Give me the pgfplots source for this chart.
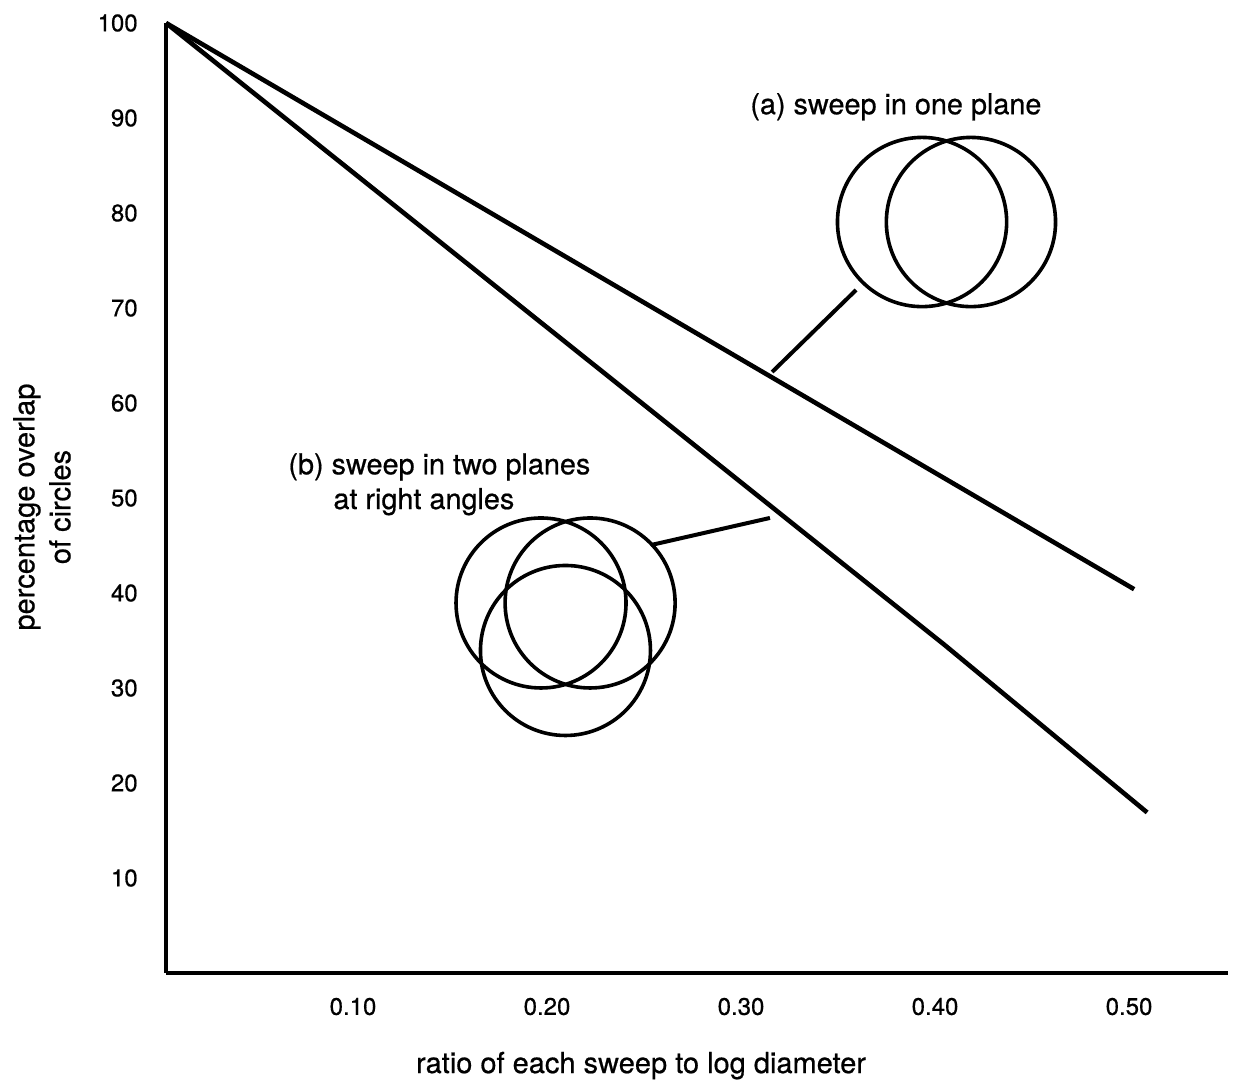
\documentclass[border=0pt]{standalone}
\usepackage{pgfplots}
\pgfplotsset{compat=1.18}
\usepackage{fontspec}
\setmainfont{TeX Gyre Heros}[FakeBold=0.6]
\begin{document}
\begin{tikzpicture}
\begin{axis}[
  at={(0,0)}, anchor=south west,
  scale only axis, width=531pt, height=475pt,
  xmin=0, xmax=0.5474, ymin=0, ymax=100,
  axis lines=left,
  axis line style={line width=2.1pt, -},
  tick style={draw=none},
  xtick={0.1,0.2,0.3,0.4,0.5},
  xticklabels={0.10,0.20,0.30,0.40,0.50},
  ytick={10,20,30,40,50,60,70,80,90,100},
  /pgf/number format/assume math mode=true,
  ticklabel style={font=\fontsize{12}{14}\selectfont},
  xticklabel style={anchor=north, yshift=-6.75pt, xshift=-3.5pt},
  yticklabel style={anchor=east, xshift=-8.5pt},
  xlabel={ratio of each sweep to log diameter},
  ylabel={percentage overlap\\of circles},
  every axis x label/.style={at={(axis description cs:0.4473,-0.1053)}, anchor=base, font=\fontsize{14.5}{18}\selectfont},
  every axis y label/.style={at={(axis description cs:-0.1168,0.4905)}, anchor=center, rotate=90, align=center, font=\fontsize{14.5}{18}\selectfont},
  clip=false,
]
% (a) sweep in one plane
\addplot[black, no markers, line width=2.3pt] coordinates {(0,100) (0.499,40.4)};
% (b) sweep in two planes at right angles
\addplot[black, no markers, line width=2.3pt] coordinates {(0,100) (0.4015,34.5) (0.5057,16.9)};
% circles
\addplot[black, only marks, mark=o, mark size=42.3pt, mark options={line width=1.8pt}] coordinates {(0.3897,79.05) (0.4149,79.05)};
\addplot[black, only marks, mark=o, mark size=42.5pt, mark options={line width=1.8pt}] coordinates {(0.1933,38.95) (0.2186,38.95) (0.2059,33.95)};
% leader lines
\addplot[black, no markers, line width=2pt] coordinates {(0.3557,71.9) (0.3124,63.26)};
\addplot[black, no markers, line width=2pt] coordinates {(0.25,45.05) (0.3113,47.9)};
\node[anchor=base west, inner sep=0pt, font=\fontsize{14.4}{17}\selectfont] at (axis cs:0.301,90.4) {(a) sweep in one plane};
\node[anchor=base west, inner sep=0pt, font=\fontsize{14.4}{17}\selectfont] at (axis cs:0.0629,52.5) {(b) sweep in two planes};
\node[anchor=base west, inner sep=0pt, font=\fontsize{14.4}{17}\selectfont] at (axis cs:0.0861,48.84) {at right angles};
\end{axis}
\pgfresetboundingbox
\path (-83pt,-55pt) rectangle (537pt,486.5pt);
\end{tikzpicture}
\end{document}
